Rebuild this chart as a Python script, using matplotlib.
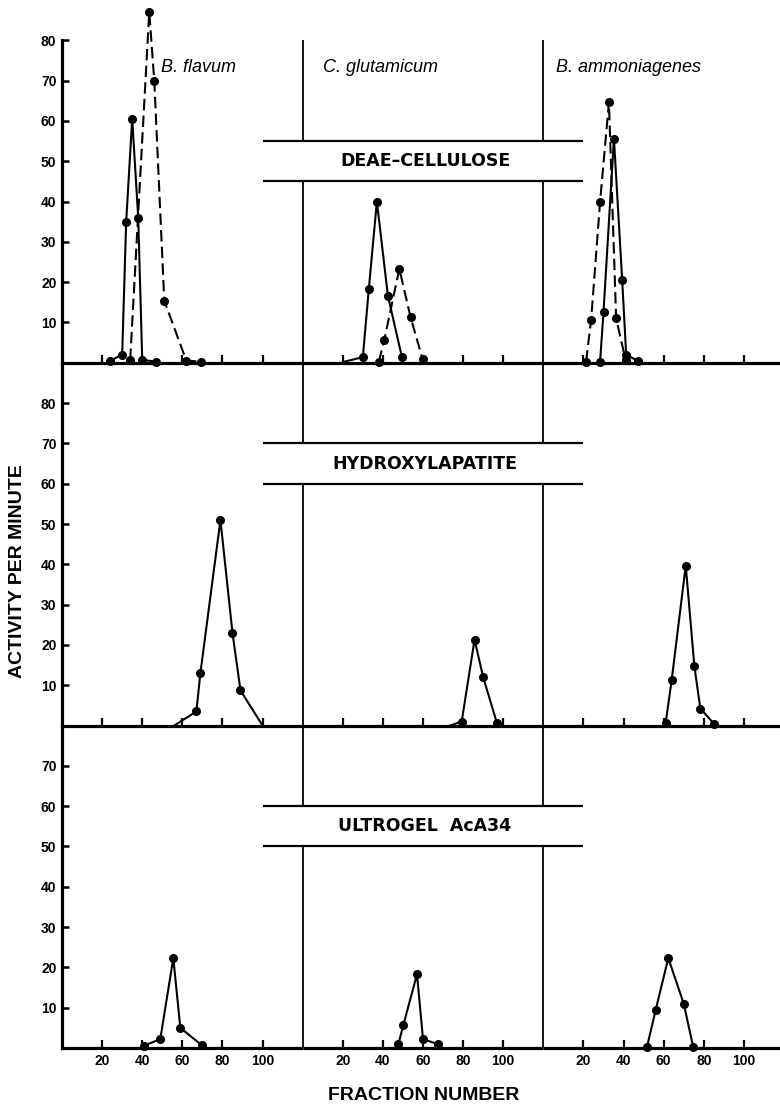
import matplotlib
matplotlib.use("Agg")
import matplotlib.pyplot as plt

plt.rcParams['font.family'] = ['Liberation Sans', 'DejaVu Sans']

# panels: rows = columns (gel), cols = organisms
columns = ['DEAE\u2013CELLULOSE', 'HYDROXYLAPATITE', 'ULTROGEL  AcA34']
organisms = ['B. flavum', 'C. glutamicum', 'B. ammoniagenes']
x_ticks = [20, 40, 60, 80, 100]
y_ticks = [[10, 20, 30, 40, 50, 60, 70, 80],
           [10, 20, 30, 40, 50, 60, 70, 80],
           [10, 20, 30, 40, 50, 60, 70]]
y_max = [90, 90, 80]
y_spine_top = [80, 90, 80]
box_lo = [45, 60, 50]
box_hi = [55, 70, 60]

# DEAE-cellulose, solid and dashed activities
deae_flav_solid_x = [24, 30, 32, 35, 38, 40, 47]
deae_flav_solid_y = [0.5, 2, 35, 60.5, 36, 0.7, 0.3]
deae_flav_dash_x = [34, 43.5, 46, 51, 62, 69.5]
deae_flav_dash_y = [0.7, 87, 70, 15.4, 0.5, 0.3]
deae_glut_solid_x = [21, 30, 33, 37, 42.5, 49.5]
deae_glut_solid_y = [0.3, 1.4, 18.4, 40, 16.6, 1.4]
deae_glut_dash_x = [38, 40.7, 48.2, 53.8, 59.8]
deae_glut_dash_y = [0.3, 5.7, 23.3, 11.3, 0.9]
deae_amm_solid_x = [28.3, 30, 35.2, 39.3, 41.3, 47]
deae_amm_solid_y = [0.3, 12.6, 55.6, 20.6, 2, 0.5]
deae_amm_dash_x = [21.3, 23.8, 28.3, 32.7, 36.3, 41]
deae_amm_dash_y = [0.3, 10.5, 40, 64.6, 11, 0.7]

# hydroxylapatite
hyd_flav_x = [56, 67, 69, 79, 85, 89, 100]
hyd_flav_y = [0, 3.5, 13, 51, 23, 8.7, 0]
hyd_glut_x = [73.5, 79.3, 85.7, 90, 96.8]
hyd_glut_y = [0, 1, 21.3, 12, 0.7]
hyd_amm_x = [61, 64, 71, 75.3, 78.3, 85]
hyd_amm_y = [0.7, 11.3, 39.7, 14.7, 4.2, 0.5]

# ultrogel
ult_flav_x = [41, 49, 55.5, 59, 69.7]
ult_flav_y = [0.6, 2.2, 22.3, 5, 0.7]
ult_glut_x = [47.7, 50.2, 57, 60, 67.7]
ult_glut_y = [0.9, 5.7, 18.3, 2.2, 0.9]
ult_amm_x = [51.7, 56, 62.3, 70, 74.7]
ult_amm_y = [0.3, 9.4, 22.3, 11, 0.3]

series = {
    (0, 0): [(deae_flav_solid_x, deae_flav_solid_y, '-', None),
             (deae_flav_dash_x, deae_flav_dash_y, '--', None)],
    (0, 1): [(deae_glut_solid_x, deae_glut_solid_y, '-', [1, 2, 3, 4, 5]),
             (deae_glut_dash_x, deae_glut_dash_y, '--', None)],
    (0, 2): [(deae_amm_solid_x, deae_amm_solid_y, '-', None),
             (deae_amm_dash_x, deae_amm_dash_y, '--', None)],
    (1, 0): [(hyd_flav_x, hyd_flav_y, '-', [1, 2, 3, 4, 5])],
    (1, 1): [(hyd_glut_x, hyd_glut_y, '-', [1, 2, 3, 4])],
    (1, 2): [(hyd_amm_x, hyd_amm_y, '-', None)],
    (2, 0): [(ult_flav_x, ult_flav_y, '-', None)],
    (2, 1): [(ult_glut_x, ult_glut_y, '-', None)],
    (2, 2): [(ult_amm_x, ult_amm_y, '-', None)],
}

fig = plt.figure(figsize=(7.8, 11.05), dpi=100)
gs = fig.add_gridspec(3, 3, left=62/780, right=1.0, top=1.0, bottom=57/1105,
                      width_ratios=[120, 120, 118], height_ratios=[90, 90, 80],
                      wspace=0, hspace=0)

for r in range(3):
    for c in range(3):
        ax = fig.add_subplot(gs[r, c])
        xmax = 118 if c == 2 else 120
        ax.set_xlim(0, xmax)
        ax.set_ylim(0, y_max[r])
        ax.patch.set_alpha(0)
        for s in ['top', 'right']:
            ax.spines[s].set_visible(False)
        ax.spines['bottom'].set_linewidth(2.3)
        ax.spines['bottom'].set_capstyle('butt')
        if c == 0:
            ax.spines['left'].set_linewidth(2.3)
            ax.spines['left'].set_bounds(0, y_spine_top[r])
            ax.set_yticks(y_ticks[r])
            ax.tick_params(axis='y', direction='in', length=5, width=1.8,
                           labelsize=10, pad=4)
            for lab in ax.get_yticklabels():
                lab.set_fontweight('bold')
        else:
            ax.spines['left'].set_visible(False)
            ax.set_yticks([])
            top = y_spine_top[0] if r == 0 else y_max[r]
            ax.vlines([0, 0], [0, box_hi[r]], [box_lo[r], top], color='black',
                      lw=1.3, clip_on=False)
        ax.set_xticks(x_ticks)
        ax.tick_params(axis='x', direction='in', length=6, width=1.6,
                       labelsize=10, pad=4)
        if r == 2:
            for lab in ax.get_xticklabels():
                lab.set_fontweight('bold')
        else:
            ax.set_xticklabels([])

        # label box lines
        x0 = 100 if c == 0 else 0
        x1 = 20 if c == 2 else xmax
        ax.hlines([box_lo[r], box_hi[r]], x0, x1, color='black', lw=1.6)
        if c == 1:
            ax.text(61, (box_lo[r] + box_hi[r]) / 2, columns[r], ha='center',
                    va='center', fontsize=12.5, fontweight='bold',
                    family=['DejaVu Sans'])

        for xs, ys, ls, marks in series[(r, c)]:
            ax.plot(xs, ys, color='black', lw=1.5, ls=ls,
                    dashes=(5.5, 2.5) if ls == '--' else (None, None),
                    marker='o', markersize=5.5, markevery=marks, clip_on=False)

# organism names
fig.text(161/780, 1 - 67/1105, organisms[0], fontsize=13, style='italic', va='center')
fig.text(323/780, 1 - 67/1105, organisms[1], fontsize=13, style='italic', va='center')
fig.text(556/780, 1 - 67/1105, organisms[2], fontsize=13, style='italic', va='center')

fig.text(18/780, 1 - 571/1105, 'ACTIVITY PER MINUTE', rotation=90, ha='center',
         va='center', fontsize=14, fontweight='bold')
fig.text(424/780, 1 - 1095/1105, 'FRACTION NUMBER', ha='center', va='center',
         fontsize=14, fontweight='bold')

fig.savefig('out.png', dpi=100)
